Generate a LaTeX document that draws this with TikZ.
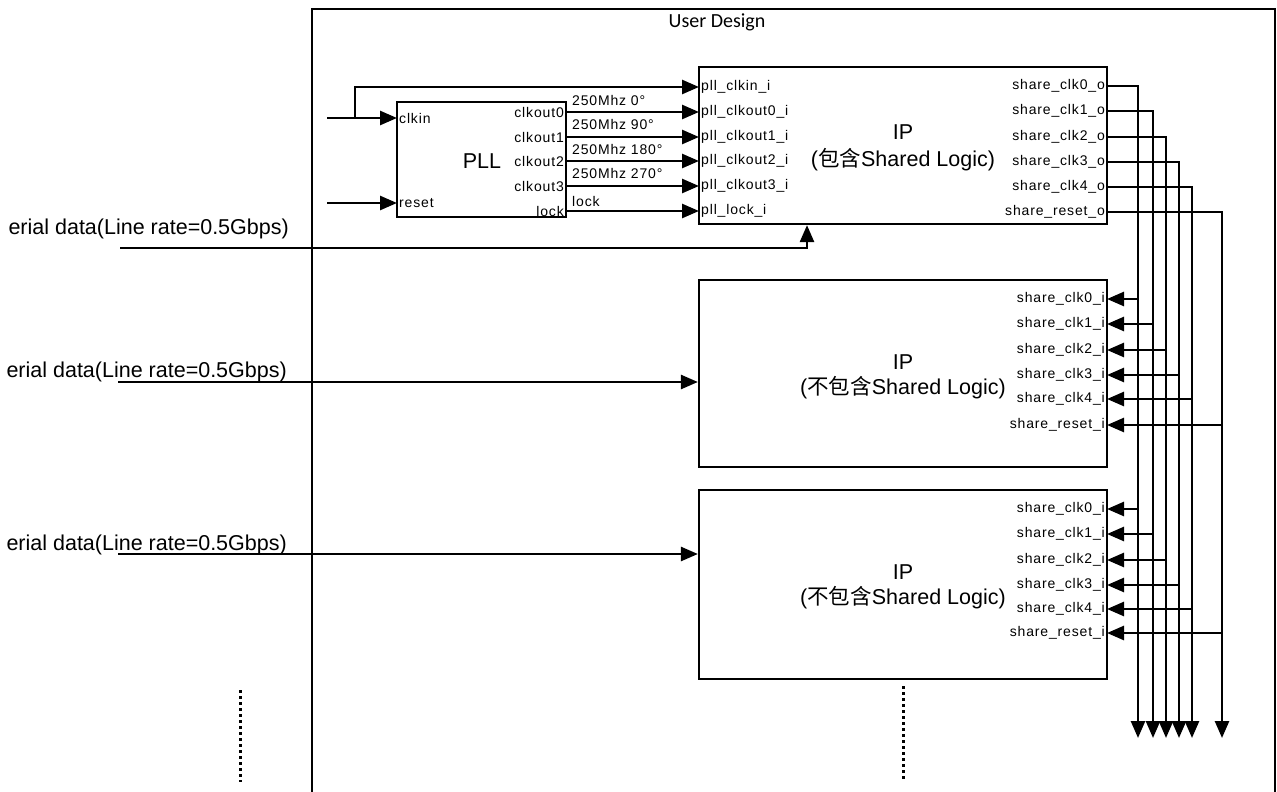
\documentclass[tikz,border=0pt]{standalone}
\usepackage{fontspec}
\setmainfont{Liberation Sans}
\newfontfamily\cjk{Noto Sans CJK SC}
\newfontfamily\portfont[LetterSpace=6]{Liberation Sans}
\newfontfamily\titlefont{Carlito}
\usepackage{xcolor}
\definecolor{ink}{HTML}{000000}
\usetikzlibrary{positioning,arrows.meta,calc}

\tikzset{
  box/.style={draw=ink,line width=2.2pt,inner sep=0pt},
  sig/.style={draw=ink,line width=2.6pt,-{Triangle[length=17pt,width=14pt]}},
  dots/.style={draw=ink,line width=3pt,dash pattern=on 3pt off 3pt},
  lport/.style={anchor=west,inner sep=2pt,font=\portfont\fontsize{14}{16}\selectfont},
  rport/.style={anchor=east,inner sep=2pt,font=\portfont\fontsize{14}{16}\selectfont},
  big/.style={inner sep=0pt,font=\fontsize{21.5}{24}\selectfont},
}

\begin{document}
\begin{tikzpicture}[x=1pt,y=-1pt]
\useasboundingbox (0,0) rectangle (1277,792);

% User design frame
\draw[box] (312,805) |- (1275,9) -- (1275,805);
\node[font=\titlefont\fontsize{20}{24}\selectfont] (title) at (717,22) {User Design};

% Blocks
\node[box,minimum width=169pt,minimum height=115pt] (pll) at (481.5,159.5) {};
\node[box,minimum width=408pt,minimum height=157pt] (ip1) at (903,145.5) {};
\node[box,minimum width=408pt,minimum height=187pt] (ip2) at (903,373.5) {};
\node[box,minimum width=408pt,minimum height=189pt] (ip3) at (903,584.5) {};

\node[big] (plltxt) at (482,161) {PLL};
\node[big] (ip1a) at (903,132) {IP};
\node[big] (ip1b) at (903,160) {({\cjk 包含}Shared Logic)};
\node[big] (ip2a) at (903,362) {IP};
\node[big] (ip2b) at (903,388) {({\cjk 不包含}Shared Logic)};
\node[big] (ip3a) at (903,572) {IP};
\node[big] (ip3b) at (903,598) {({\cjk 不包含}Shared Logic)};

% PLL ports
\node[lport] (pclkin) at (397,118) {clkin};
\node[lport] (preset) at (397,203) {reset};
\foreach \i/\y/\name in {0/112/clkout0,1/137/clkout1,2/161/clkout2,3/186/clkout3,4/211/lock} {
  \node[rport] (pllo\i) at (566,\y) {\name};
}

% IP ports with shared logic
\foreach \i/\y/\name in {0/87/pll\_clkin\_i,1/112/pll\_clkout0\_i,2/137/pll\_clkout1\_i,
                         3/161/pll\_clkout2\_i,4/186/pll\_clkout3\_i,5/211/pll\_lock\_i} {
  \node[lport] (ipi\i) at (699,\y) {\name};
}
\foreach \i/\y/\name in {0/86/share\_clk0\_o,1/111/share\_clk1\_o,2/137/share\_clk2\_o,
                         3/162/share\_clk3\_o,4/187/share\_clk4\_o,5/212/share\_reset\_o} {
  \node[rport] (ipo\i) at (1107,\y) {\name};
}

% Clock labels between PLL and IP
\foreach \i/\y/\txt in {0/100/250Mhz 0°,1/124/250Mhz 90°,2/149/250Mhz 180°,3/173/250Mhz 270°,4/201/lock} {
  \node[lport] (frq\i) at (570,\y) {\txt};
}

% PLL inputs
\coordinate (clksrc) at (327,118);
\coordinate (clkbr) at (355,118);
\coordinate (rstsrc) at (327,203);
\draw[sig] (clksrc) -- (pclkin.west);
\draw[sig] (clkbr) |- (ipi0.west);
\draw[sig] (rstsrc) -- (preset.west);
\foreach \i/\j in {0/1,1/2,2/3,3/4,4/5} {
  \draw[sig] (pllo\i.east) -- (ipi\j.west);
}

% Shared clock bus
\foreach \i/\x in {0/1138,1/1153,2/1166,3/1179,4/1192,5/1222} {
  \coordinate (bus\i) at (\x,738);
  \draw[sig] (ipo\i.east) -| (bus\i);
}

% IP ports without shared logic
\foreach \i/\y/\name in {0/299/share\_clk0\_i,1/324/share\_clk1\_i,2/350/share\_clk2\_i,
                         3/375/share\_clk3\_i,4/399/share\_clk4\_i,5/425/share\_reset\_i} {
  \node[rport] (iib\i) at (1107,\y) {\name};
  \draw[sig] (iib\i.east -| bus\i) -- (iib\i.east);
}
\foreach \i/\y/\name in {0/509/share\_clk0\_i,1/534/share\_clk1\_i,2/560/share\_clk2\_i,
                         3/585/share\_clk3\_i,4/609/share\_clk4\_i,5/633/share\_reset\_i} {
  \node[rport] (iic\i) at (1107,\y) {\name};
  \draw[sig] (iic\i.east -| bus\i) -- (iic\i.east);
}

% Serial data inputs
\node[big,anchor=east] (sd1) at (289,229) {erial data(Line rate=0.5Gbps)};
\node[big,anchor=east] (sd2) at (287,372) {erial data(Line rate=0.5Gbps)};
\node[big,anchor=east] (sd3) at (287,545) {erial data(Line rate=0.5Gbps)};
\coordinate (ser1) at (120,248);
\coordinate (ser2) at (118,382);
\coordinate (ser3) at (118,554);
\draw[sig] (ser1) -| ([xshift=-96pt]ip1.south);
\draw[sig] (ser2) -- (ser2 -| ip2.west);
\draw[sig] (ser3) -- (ser3 -| ip3.west);

% More instances
\draw[dots] (240,690) -- (240,782);
\draw[dots] (903,686) -- (903,779);

\end{tikzpicture}
\end{document}
